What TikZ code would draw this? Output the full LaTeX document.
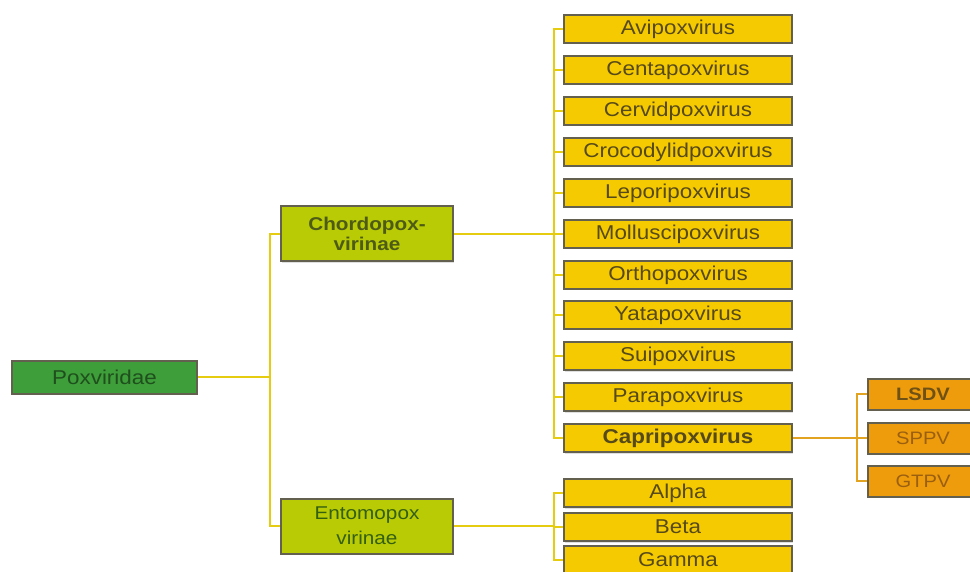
\documentclass[tikz,border=0pt]{standalone}
\usepackage{fontspec}
\setmainfont{Liberation Sans}[FakeStretch=1.12]
\usepackage{tikz}
\usetikzlibrary{shadows}
\definecolor{poxgreen}{HTML}{3E9E3A}
\definecolor{subgreen}{HTML}{B8CB05}
\definecolor{genusgold}{HTML}{F6CA00}
\definecolor{speciesorange}{HTML}{EE9C0C}
\definecolor{boxgray}{HTML}{63604F}
\definecolor{linkyellow}{HTML}{E6CC10}
\definecolor{linkorange}{HTML}{E2A420}
\definecolor{darkolive}{HTML}{56491A}

\begin{document}
\begin{tikzpicture}[
    x=1pt, y=-1pt,
    font=\fontsize{20}{24}\selectfont,
      box/.style={rectangle, draw=boxgray, line width=2pt, inner sep=0pt, drop shadow={opacity=0.25, shadow xshift=1pt, shadow yshift=-1.5pt}},
      family/.style={box, fill=poxgreen, text=poxgreen!50!black, minimum width=185pt, minimum height=33pt},
      subfamily/.style={box, fill=subgreen, text=darkolive!75!green!80!black, align=center, minimum width=172pt, minimum height=55pt},
      genus/.style={box, fill=genusgold, text=darkolive, minimum width=228pt, minimum height=28pt},
      species/.style={box, fill=speciesorange, text=darkolive!85!orange, minimum width=110pt, minimum height=31pt, font=\fontsize{18}{21}\selectfont},
      link/.style={draw=linkyellow, line width=1.5pt},
      capri link/.style={draw=linkorange, line width=1.5pt}
    ]
      \useasboundingbox (0,0) rectangle (970,572);
      \clip (0,0) rectangle (970,572);

      \node[family] (pox) at (104.5,377) {Poxviridae};
      \node[subfamily, font=\fontsize{18.5}{20}\selectfont\bfseries, text=darkolive!90!green] (chordo) at (367,234) {Chordopox-\\virinae};
      \node[subfamily, font=\fontsize{18.5}{25}\selectfont] (entomo) at (367,526) {Entomopox\\virinae};

      \node[genus] (avi) at (678,29) {Avipoxvirus};
      \node[genus] (centa) at (678,70) {Centapoxvirus};
      \node[genus] (cervid) at (678,111) {Cervidpoxvirus};
      \node[genus] (croco) at (678,152) {Crocodylidpoxvirus};
      \node[genus] (lepori) at (678,193) {Leporipoxvirus};
      \node[genus] (mollusci) at (678,234) {Molluscipoxvirus};
      \node[genus] (ortho) at (678,275) {Orthopoxvirus};
      \node[genus] (yata) at (678,315) {Yatapoxvirus};
      \node[genus] (sui) at (678,356) {Suipoxvirus};
      \node[genus] (para) at (678,397) {Parapoxvirus};
      \node[genus, font=\fontsize{20}{24}\selectfont\bfseries] (capri) at (678,438) {Capripoxvirus};
      \node[genus] (alpha) at (678,493) {Alpha};
      \node[genus] (beta) at (678,527) {Beta};
      \node[genus] (gamma) at (678,560) {Gamma};

      \node[species, font=\fontsize{18}{21}\selectfont\bfseries] (lsdv) at (923,394) {LSDV};
      \node[species, text=darkolive!60!orange] (sppv) at (923,438) {SPPV};
      \node[species, text=darkolive!60!orange] (gtpv) at (923,481) {GTPV};

      % branching points of the tree
      \coordinate (famsplit) at (270,377);
      \coordinate (chordosplit) at (554,234);
      \coordinate (entomosplit) at (554,526);
      \coordinate (caprisplit) at (857,438);

      \draw[link] (pox.east) -- (famsplit);
      \draw[link] (famsplit) |- (chordo.west);
      \draw[link] (famsplit) |- (entomo.west);
      \draw[link] (chordo.east) -- (chordosplit);
      \draw[link] (entomo.east) -- (entomosplit);

      \draw[link] (chordosplit) |- (avi.west);
      \draw[link] (chordosplit) |- (capri.west);
      \draw[link] (chordosplit) -- (mollusci.west);
      \draw[link] (centa.west) -- (centa.west -| chordosplit);
      \draw[link] (cervid.west) -- (cervid.west -| chordosplit);
      \draw[link] (croco.west) -- (croco.west -| chordosplit);
      \draw[link] (lepori.west) -- (lepori.west -| chordosplit);
      \draw[link] (ortho.west) -- (ortho.west -| chordosplit);
      \draw[link] (yata.west) -- (yata.west -| chordosplit);
      \draw[link] (sui.west) -- (sui.west -| chordosplit);
      \draw[link] (para.west) -- (para.west -| chordosplit);

      \draw[link] (entomosplit) |- (alpha.west);
      \draw[link] (entomosplit) |- (gamma.west);
      \draw[link] (beta.west) -- (beta.west -| entomosplit);

      \draw[capri link] (capri.east) -- (caprisplit);
      \draw[capri link] (caprisplit) |- (lsdv.west);
      \draw[capri link] (caprisplit) |- (gtpv.west);
      \draw[capri link] (caprisplit) -- (sppv.west);
    \end{tikzpicture}
\end{document}
